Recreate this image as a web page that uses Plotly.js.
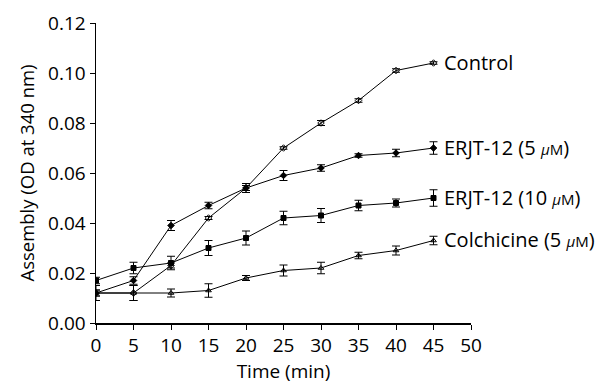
<!DOCTYPE html>
<html>
<head>
<meta charset="utf-8">
<script src="https://cdn.plot.ly/plotly-3.0.1.min.js"></script>
<style>html,body{margin:0;padding:0;background:#fff;}#chart{width:607px;height:386px;}</style>
</head>
<body>
<div id="chart"></div>
<script>
const time = [0, 5, 10, 15, 20, 25, 30, 35, 40, 45];

const seriesNames = [
  "Control",
  "ERJT-12 (5 <span style=\"font-size:15px\"><i>μ</i>M</span>)",
  "ERJT-12 (10 <span style=\"font-size:15px\"><i>μ</i>M</span>)",
  "Colchicine (5 <span style=\"font-size:15px\"><i>μ</i>M</span>)"
];

const control      = [0.012, 0.012, 0.023, 0.042, 0.054, 0.070, 0.080, 0.089, 0.101, 0.104];
const controlErr   = [0.0012, 0.003, 0.001, 0.0006, 0.001, 0.0005, 0.001, 0.0007, 0.0007, 0.0005];

const erjt5        = [0.012, 0.017, 0.039, 0.047, 0.054, 0.059, 0.062, 0.067, 0.068, 0.070];
const erjt5Err     = [0.0012, 0.0015, 0.002, 0.0013, 0.0018, 0.002, 0.0013, 0.0007, 0.0015, 0.0025];

const erjt10       = [0.017, 0.022, 0.024, 0.030, 0.034, 0.042, 0.043, 0.047, 0.048, 0.050];
const erjt10Err    = [0.0013, 0.0023, 0.0027, 0.003, 0.0028, 0.0027, 0.0028, 0.0021, 0.0016, 0.0033];

const colchicine   = [0.012, 0.012, 0.012, 0.013, 0.018, 0.021, 0.022, 0.027, 0.029, 0.033];
const colchErr     = [0.003, 0.003, 0.0016, 0.0027, 0.001, 0.0022, 0.0023, 0.0013, 0.0018, 0.0017];

const xTicks = [0, 5, 10, 15, 20, 25, 30, 35, 40, 45, 50];
const yTicks = [0, 0.02, 0.04, 0.06, 0.08, 0.10, 0.12];

const values = [control, erjt5, erjt10, colchicine];
const errs = [controlErr, erjt5Err, erjt10Err, colchErr];
const symbols = ["diamond-open", "diamond", "square", "triangle-up-open"];

const traces = values.map((v, i) => ({
  x: time, y: v, type: "scatter", mode: "lines+markers",
  name: seriesNames[i],
  line: {color: "#000", width: 1},
  marker: {symbol: symbols[i], size: 5, color: "#000", line: {color: "#000", width: 1}},
  error_y: {type: "data", array: errs[i], visible: true, color: "#000", thickness: 1, width: 4},
  showlegend: false
}));

const annotations = values.map((v, i) => ({
  x: 45, y: v[v.length - 1], xref: "x", yref: "y",
  text: seriesNames[i], showarrow: false, xanchor: "left", yanchor: "middle",
  xshift: 8, yshift: 1,
  font: {family: "Open Sans, DejaVu Sans, sans-serif", size: 20, color: "#000"}
}));

const layout = {
  width: 607, height: 386,
  margin: {l: 96, r: 136, t: 23, b: 63},
  paper_bgcolor: "#fff", plot_bgcolor: "#fff",
  font: {family: "Open Sans, DejaVu Sans, sans-serif", size: 19, color: "#000"},
  xaxis: {
    range: [0, 50], tickvals: xTicks, ticktext: xTicks.map(String),
    showline: true, linecolor: "#000", linewidth: 1.5, mirror: false,
    ticks: "outside", ticklen: 5, tickcolor: "#000", showgrid: false, zeroline: false,
    tickfont: {size: 19},
    title: {text: "Time (min)", font: {size: 19}, standoff: 6}
  },
  yaxis: {
    range: [0, 0.12], tickvals: yTicks, ticktext: yTicks.map(t => t.toFixed(2)),
    showline: true, linecolor: "#000", linewidth: 1.5,
    ticks: "outside", ticklen: 5, tickcolor: "#000", showgrid: false, zeroline: false,
    tickfont: {size: 19},
    title: {text: "Assembly (OD at 340 nm)", font: {size: 18.5}, standoff: 8}
  },
  annotations: annotations
};

Plotly.newPlot("chart", traces, layout, {displayModeBar: false, staticPlot: true});
</script>
</body>
</html>
